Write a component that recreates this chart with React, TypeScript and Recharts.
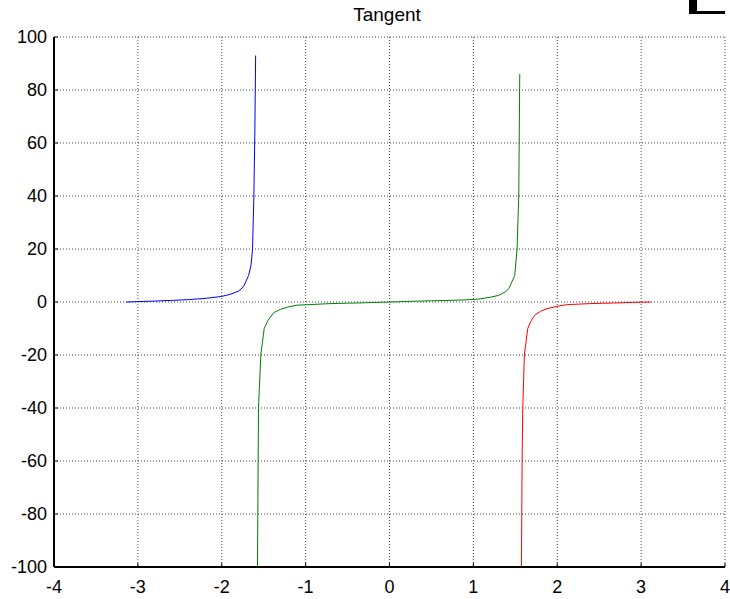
import { CartesianGrid, Line, LineChart, XAxis, YAxis } from "recharts";

// values
const blueX = [-3.14, -3.0, -2.8, -2.6, -2.4, -2.2, -2.0, -1.9, -1.8, -1.74, -1.68, -1.65, -1.633, -1.617, -1.605, -1.596];
const blueY = [0, 0.15, 0.35, 0.6, 0.9, 1.35, 2.1, 2.9, 4.1, 5.8, 10, 14, 20, 40, 65, 93];

const greenX = [
  -1.574, -1.562, -1.534, -1.494, -1.45, -1.38, -1.3, -1.2, -1.105, -0.9, -0.7, -0.5, -0.3, -0.1,
  0.1, 0.3, 0.5, 0.7, 0.9, 1.064, 1.2, 1.303, 1.38, 1.422, 1.493, 1.521, 1.541, 1.553
];
const greenY = [
  -100, -40, -20, -10, -7, -4, -2.8, -1.8, -1.2, -0.9, -0.6, -0.45, -0.3, -0.1,
  0.1, 0.3, 0.45, 0.6, 0.8, 1.1, 1.8, 2.5, 3.8, 5, 10, 20, 40, 86
];

const redX = [1.573, 1.581, 1.589, 1.608, 1.648, 1.69, 1.731, 1.8, 1.878, 2.0, 2.117, 2.4, 2.7, 2.9, 3.117];
const redY = [-100, -60, -40, -20, -10, -7, -5, -3.5, -2.5, -1.6, -1, -0.6, -0.35, -0.15, 0];

const xTicks = [-4, -3, -2, -1, 0, 1, 2, 3, 4];
const yTicks = [-100, -80, -60, -40, -20, 0, 20, 40, 60, 80, 100];

const toRows = (xs: number[], ys: number[]) => xs.map((x, i) => ({ x, y: ys[i] }));

const font = "'Liberation Sans', Arial, sans-serif";
const tickStyle = { fontSize: 18, fill: "#000", fontFamily: font };

export default function App() {
  return (
    <div style={{ position: "absolute", left: 0, top: 0, width: 730, height: 599, background: "#fff" }}>
      <LineChart width={730} height={599} margin={{ top: 37, right: 5, bottom: 0, left: 0 }}>
        <CartesianGrid
          xAxisId="bottom"
          yAxisId="left"
          stroke="#444"
          strokeDasharray="1 2"
          horizontalValues={yTicks}
          verticalValues={xTicks}
        />
        <XAxis
          xAxisId="bottom"
          type="number"
          dataKey="x"
          domain={[-4, 4]}
          ticks={xTicks}
          height={32}
          tickSize={-4}
          tickMargin={17}
          tick={tickStyle}
          axisLine={{ stroke: "#000", strokeWidth: 2 }}
          tickLine={{ stroke: "#000" }}
          interval={0}
        />
        <XAxis
          xAxisId="top"
          orientation="top"
          type="number"
          domain={[-4, 4]}
          ticks={xTicks}
          height={0}
          tickSize={-4}
          tick={false}
          axisLine={{ stroke: "#000", strokeWidth: 1.5 }}
          tickLine={{ stroke: "#000" }}
        />
        <YAxis
          yAxisId="left"
          type="number"
          domain={[-100, 100]}
          ticks={yTicks}
          allowDataOverflow
          width={54}
          tickSize={-4}
          tickMargin={11}
          tick={tickStyle}
          axisLine={{ stroke: "#000", strokeWidth: 2 }}
          tickLine={{ stroke: "#000" }}
          interval={0}
        />
        <YAxis
          yAxisId="right"
          orientation="right"
          type="number"
          domain={[-100, 100]}
          ticks={yTicks}
          width={0}
          tickSize={-4}
          tick={false}
          axisLine={{ stroke: "#000", strokeWidth: 1.5 }}
          tickLine={{ stroke: "#000" }}
        />
        <Line
          xAxisId="bottom"
          yAxisId="left"
          data={toRows(blueX, blueY)}
          dataKey="y"
          stroke="#0000ff"
          strokeWidth={1}
          dot={false}
          isAnimationActive={false}
        />
        <Line
          xAxisId="bottom"
          yAxisId="left"
          data={toRows(greenX, greenY)}
          dataKey="y"
          stroke="#008000"
          strokeWidth={1}
          dot={false}
          isAnimationActive={false}
        />
        <Line
          xAxisId="bottom"
          yAxisId="left"
          data={toRows(redX, redY)}
          dataKey="y"
          stroke="#ff0000"
          strokeWidth={1}
          dot={false}
          isAnimationActive={false}
        />
        <text x={387} y={21} textAnchor="middle" fontSize={19} fontFamily={font} fill="#000">
          Tangent
        </text>
      </LineChart>
      {/* stray figure corner in the top right */}
      <div style={{ position: "absolute", left: 689, top: 0, width: 8, height: 14, background: "#000" }} />
      <div style={{ position: "absolute", left: 689, top: 11, width: 36, height: 3, background: "#000" }} />
    </div>
  );
}
